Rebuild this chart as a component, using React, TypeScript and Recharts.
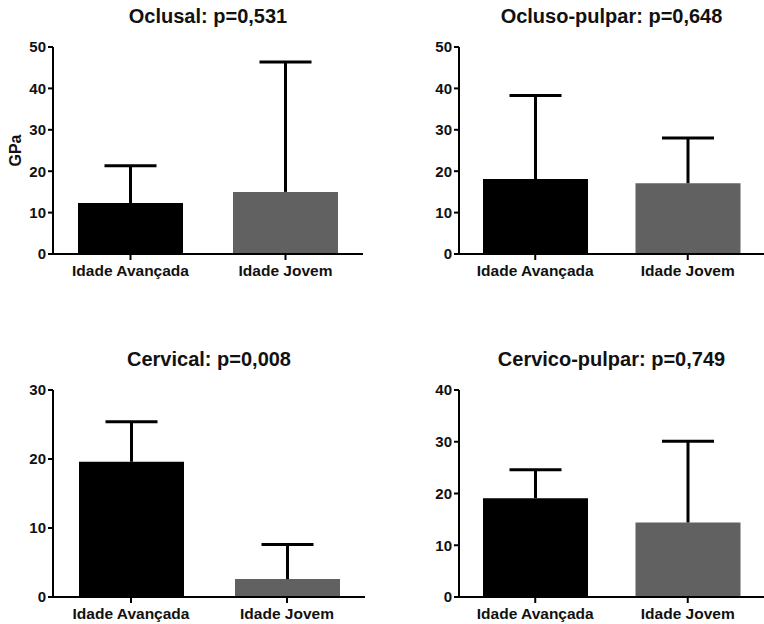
import { BarChart, Bar, XAxis, YAxis, Cell, Label } from 'recharts'

const groups = ['Idade Avançada', 'Idade Jovem']
const barColors = ['#000000', '#616161']

// mean and upper end of the SD bar
const oclusalMean = [12.3, 15.0]
const oclusalUpper = [21.3, 46.4]
const oclusoPulparMean = [18.1, 17.1]
const oclusoPulparUpper = [38.3, 28.0]
const cervicalMean = [19.6, 2.6]
const cervicalUpper = [25.4, 7.6]
const cervicoPulparMean = [19.1, 14.4]
const cervicoPulparUpper = [24.6, 30.1]

const ticks50 = [0, 10, 20, 30, 40, 50]
const ticks30 = [0, 10, 20, 30]
const ticks40 = [0, 10, 20, 30, 40]

const FONT = '"Liberation Sans", Arial, sans-serif'

const ErrorCap = (props: any) => {
  const { x, y, width, height } = props
  if (!height) return null
  const cx = x + width / 2
  return (
    <g>
      <line x1={cx} y1={y + height} x2={cx} y2={y} stroke="#000" strokeWidth={3} />
      <line x1={cx - 26} y1={y} x2={cx + 26} y2={y} stroke="#000" strokeWidth={3} />
    </g>
  )
}

interface PanelProps {
  title: string
  mean: number[]
  upper: number[]
  ticks: number[]
  left: number
  top: number
  height: number
  plotTop: number
  axisY: number
  axisX: number
  marginRight: number
  yLabel?: string
}

function Panel({ title, mean, upper, ticks, left, top, height, plotTop, axisY, axisX, marginRight, yLabel }: PanelProps) {
  const data = groups.map((g, i) => ({ group: g, mean: mean[i], err: upper[i] - mean[i] }))
  const width = 382
  const plotW = width - axisX - marginRight
  return (
    <div style={{ position: 'absolute', left, top, width, height }}>
      <div
        style={{
          position: 'absolute',
          left: axisX,
          width: plotW,
          top: plotTop - 43,
          textAlign: 'center',
          fontFamily: FONT,
          fontWeight: 'bold',
          fontSize: 20,
          lineHeight: '24px',
          color: '#111',
        }}
      >
        {title}
      </div>
      <BarChart
        width={width}
        height={height}
        data={data}
        margin={{ top: plotTop, right: marginRight, bottom: 0, left: 0 }}
      >
        <XAxis
          dataKey="group"
          height={height - axisY}
          axisLine={{ stroke: '#000', strokeWidth: 2 }}
          tickLine={{ stroke: '#000', strokeWidth: 2 }}
          tickSize={6}
          tickMargin={5}
          tick={{ fontSize: 15.5, fontWeight: 'bold', fill: '#111', fontFamily: FONT }}
          interval={0}
        />
        <YAxis
          width={axisX}
          domain={[ticks[0], ticks[ticks.length - 1]]}
          ticks={ticks}
          interval={0}
          axisLine={{ stroke: '#000', strokeWidth: 2 }}
          tickLine={{ stroke: '#000', strokeWidth: 2 }}
          tickSize={5}
          tickMargin={2}
          tick={{ fontSize: 15, fontWeight: 'bold', fill: '#111', fontFamily: FONT }}
        >
          {yLabel ? (
            <Label
              value={yLabel}
              angle={-90}
              position="insideLeft"
              offset={15}
              fontSize={16}
              fontWeight="bold"
              fill="#111"
              fontFamily={FONT}
              style={{ textAnchor: 'middle', fontSize: 16, fontWeight: 'bold' }}
            />
          ) : null}
        </YAxis>
        <Bar dataKey="mean" stackId="a" barSize={105} isAnimationActive={false}>
          {data.map((d, i) => (
            <Cell key={d.group} fill={barColors[i]} />
          ))}
        </Bar>
        <Bar dataKey="err" stackId="a" barSize={105} shape={ErrorCap} isAnimationActive={false} />
      </BarChart>
    </div>
  )
}

export default function App() {
  return (
    <div style={{ position: 'absolute', left: 0, top: 0, width: 764, height: 624, background: '#fff' }}>
      <Panel title="Oclusal: p=0,531" mean={oclusalMean} upper={oclusalUpper} ticks={ticks50}
        left={0} top={0} height={300} plotTop={47} axisY={254} axisX={53} marginRight={19} yLabel="GPa" />
      <Panel title="Ocluso-pulpar: p=0,648" mean={oclusoPulparMean} upper={oclusoPulparUpper} ticks={ticks50}
        left={382} top={0} height={300} plotTop={47} axisY={254} axisX={77} marginRight={0} />
      <Panel title="Cervical: p=0,008" mean={cervicalMean} upper={cervicalUpper} ticks={ticks30}
        left={0} top={320} height={304} plotTop={70} axisY={277} axisX={53} marginRight={17} />
      <Panel title="Cervico-pulpar: p=0,749" mean={cervicoPulparMean} upper={cervicoPulparUpper} ticks={ticks40}
        left={382} top={320} height={304} plotTop={70} axisY={277} axisX={77} marginRight={0} />
    </div>
  )
}
